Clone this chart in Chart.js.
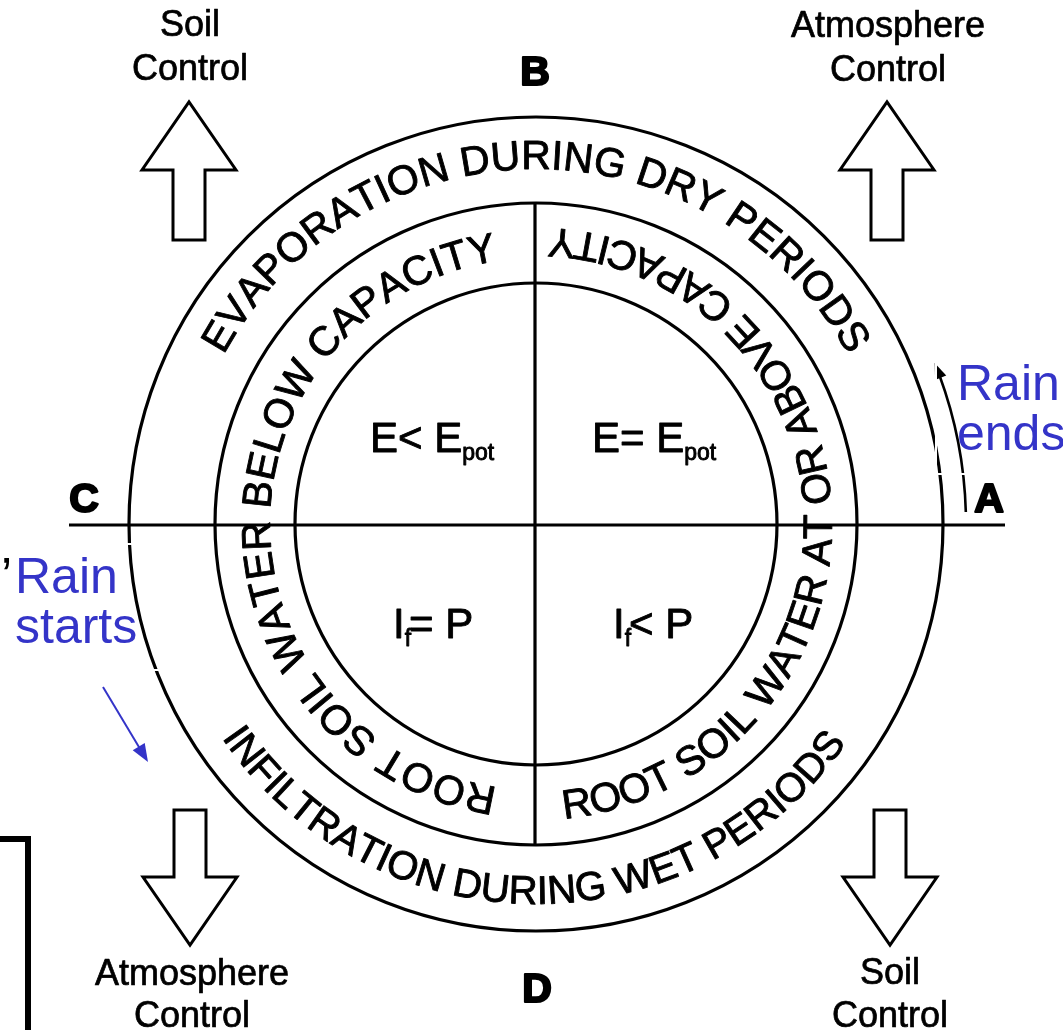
<!DOCTYPE html>
<html>
<head>
<meta charset="utf-8">
<script src="https://cdn.jsdelivr.net/npm/chart.js@4.4.1/dist/chart.umd.min.js"></script>
<style>
html,body{margin:0;padding:0;background:#fff;overflow:hidden}
canvas{display:block}
</style>
</head>
<body>
<canvas id="c" width="1063" height="1030"></canvas>
<script>
// ---------------- data ----------------
const ringRadii = [241, 321, 407];   // inner circle, middle circle, outer circle (diagram units)
const axisLetters = ['A', 'B', 'C', 'D'];
const outerRingTexts = ['EVAPORATION DURING DRY PERIODS', 'INFILTRATION DURING WET PERIODS'];
const innerRingTexts = ['ROOT SOIL WATER BELOW CAPACITY', 'ROOT SOIL WATER AT OR ABOVE CAPACITY'];
const quadrantMain = ['E< E', 'E= E', 'I', 'I'];
const quadrantSub  = ['pot', 'pot', 'f', 'f'];
const quadrantTail = ['', '', '= P', '< P'];
const controlLabels = [['Soil', 'Control'], ['Atmosphere', 'Control'], ['Atmosphere', 'Control'], ['Soil', 'Control']];
const rainLabels = [['Rain', 'starts'], ['Rain', 'ends']];

// ---------------- layout (diagram units: origin at circle centre, y up) ----------------
const L = {
  xMin: -536, xMax: 527, yMin: -506, yMax: 524,
  hLine: { x0: -467, x1: 469, y: -1 },
  vLineX: -1,
  outerText: [ { r: 355, centre: 270, outward: true, size: 41 }, { r: 380, centre: 90.5, outward: false, size: 40 } ],
  innerText: [ { r: 266, centre: 180, outward: true, size: 41 }, { r: 296, centre: -1.4, outward: false, size: 41 } ],
  letters: [ { x: 453, y: 12 }, { x: -1, y: 439 }, { x: -452, y: 12 }, { x: 1, y: -478 } ],
  quadrants: [ { x: -166, y: 72 }, { x: 56, y: 72 }, { x: -143, y: -114 }, { x: 77, y: -114 } ],
  arrows: [ { x: -347, tail: 284, tip: 422 }, { x: 351, tail: 284, tip: 422 }, { x: -346, tail: -286, tip: -421 }, { x: 354, tail: -286, tip: -421 } ],
  arrowHead: 68, arrowHalfHead: 47, arrowHalfShaft: 16,
  controlText: [ { x: -346, y: [488, 444] }, { x: 352, y: [487, 443] }, { x: -344, y: [-461, -503] }, { x: 354, y: [-460, -503] } ],
  rainText: [ { x: -521, y: [-69, -119] }, { x: 421, y: [124, 74] } ],
  blueArrow: { x0: -433, y0: -163, x1: -388, y1: -238 },
  arcArrow: { r: 430, a0: -1.6, a1: -22 },
  whiteMarks: [ [-412, -20, -394, -20], [-386, -146, -374, -146], [400, 162, 400, 50], [400, 50, 430, 50] ],
  bracket: { xLeft: -536, xRight: -508, yTop: -315, yBottom: -506 },
  blue: '#3434c8',
  textStroke: 0.9
};

const FONT = "'Liberation Sans', Arial, Helvetica, sans-serif";

function heavyText(ctx, s, x, y) {
  ctx.fillText(s, x, y);
  ctx.strokeText(s, x, y);
}

function arcText(ctx, text, cx, cy, r, centreDeg, outward) {
  const chars = [...text];
  const widths = chars.map(ch => ctx.measureText(ch).width);
  const total = widths.reduce((a, b) => a + b, 0);
  const span = total / r;
  let th = centreDeg * Math.PI / 180 + (outward ? -span / 2 : span / 2);
  ctx.textAlign = 'center';
  ctx.textBaseline = 'alphabetic';
  chars.forEach((ch, i) => {
    const w = widths[i];
    const mid = outward ? th + w / 2 / r : th - w / 2 / r;
    ctx.save();
    ctx.translate(cx + r * Math.cos(mid), cy + r * Math.sin(mid));
    ctx.rotate(outward ? mid + Math.PI / 2 : mid - Math.PI / 2);
    heavyText(ctx, ch, 0, 0);
    ctx.restore();
    th = outward ? th + w / r : th - w / r;
  });
}

const diagramPlugin = {
  id: 'diagram',
  afterDatasetsDraw(chart) {
    const ctx = chart.ctx;
    const sx = chart.scales.x, sy = chart.scales.y;
    const X = v => sx.getPixelForValue(v);
    const Y = v => sy.getPixelForValue(v);
    const unit = X(1) - X(0);
    const cx = X(0), cy = Y(0);
    ctx.save();
    ctx.strokeStyle = '#000';
    ctx.fillStyle = '#000';

    // circles
    ctx.lineWidth = 3.2;
    ringRadii.forEach(r => {
      ctx.beginPath();
      ctx.arc(cx, cy, r * unit, 0, Math.PI * 2);
      ctx.stroke();
    });

    // ring texts
    ctx.lineWidth = L.textStroke;
    ctx.lineJoin = 'round';
    outerRingTexts.forEach((t, i) => {
      const p = L.outerText[i];
      ctx.font = p.size + 'px ' + FONT;
      arcText(ctx, t, cx, cy, p.r * unit, p.centre, p.outward);
    });
    innerRingTexts.forEach((t, i) => {
      const p = L.innerText[i];
      ctx.font = p.size + 'px ' + FONT;
      arcText(ctx, t, cx, cy, p.r * unit, p.centre, p.outward);
    });

    // quadrant formulae
    ctx.textAlign = 'left';
    ctx.textBaseline = 'alphabetic';
    quadrantMain.forEach((m, i) => {
      const p = L.quadrants[i];
      let x = X(p.x);
      const y = Y(p.y);
      ctx.font = '42px ' + FONT;
      heavyText(ctx, m, x, y);
      x += ctx.measureText(m).width;
      ctx.font = '23px ' + FONT;
      heavyText(ctx, quadrantSub[i], x, y + 8);
      x += ctx.measureText(quadrantSub[i]).width - 2;
      if (quadrantTail[i]) {
        ctx.font = '42px ' + FONT;
        heavyText(ctx, quadrantTail[i], x, y);
      }
    });

    // axis letters
    ctx.font = 'bold 41px ' + FONT;
    ctx.textAlign = 'center';
    ctx.lineWidth = 2.2;
    axisLetters.forEach((l, i) => {
      const p = L.letters[i];
      heavyText(ctx, l, X(p.x), Y(p.y));
    });

    // control arrows
    ctx.lineWidth = 3;
    ctx.lineJoin = 'miter';
    L.arrows.forEach(a => {
      const dir = Math.sign(a.tip - a.tail);
      const base = a.tip - dir * L.arrowHead;
      ctx.beginPath();
      ctx.moveTo(X(a.x - L.arrowHalfShaft), Y(a.tail));
      ctx.lineTo(X(a.x - L.arrowHalfShaft), Y(base));
      ctx.lineTo(X(a.x - L.arrowHalfHead), Y(base));
      ctx.lineTo(X(a.x), Y(a.tip));
      ctx.lineTo(X(a.x + L.arrowHalfHead), Y(base));
      ctx.lineTo(X(a.x + L.arrowHalfShaft), Y(base));
      ctx.lineTo(X(a.x + L.arrowHalfShaft), Y(a.tail));
      ctx.closePath();
      ctx.fillStyle = '#fff';
      ctx.fill();
      ctx.stroke();
    });
    ctx.fillStyle = '#000';

    // control labels
    ctx.font = '36px ' + FONT;
    ctx.textAlign = 'center';
    ctx.lineWidth = 0.7;
    ctx.lineJoin = 'round';
    controlLabels.forEach((lines, i) => {
      const p = L.controlText[i];
      lines.forEach((s, j) => heavyText(ctx, s, X(p.x), Y(p.y[j])));
    });

    // arc arrow near A
    const aa = L.arcArrow;
    const a0 = aa.a0 * Math.PI / 180, a1 = aa.a1 * Math.PI / 180;
    const ar = aa.r * unit;
    ctx.lineWidth = 2.6;
    ctx.beginPath();
    ctx.arc(cx, cy, ar, a0, a1 + 0.03, true);
    ctx.stroke();
    const tx = cx + ar * Math.cos(a1), ty = cy + ar * Math.sin(a1);
    const dx = Math.sin(a1), dy = -Math.cos(a1); // direction of travel (decreasing angle)
    const nx = -dy, ny = dx;
    ctx.beginPath();
    ctx.moveTo(tx, ty);
    ctx.lineTo(tx - dx * 16 + nx * 6, ty - dy * 16 + ny * 6);
    ctx.lineTo(tx - dx * 16 - nx * 6, ty - dy * 16 - ny * 6);
    ctx.closePath();
    ctx.fill();

    // white marks (box edges)
    ctx.strokeStyle = '#fff';
    ctx.lineWidth = 2;
    L.whiteMarks.forEach(m => {
      ctx.beginPath();
      ctx.moveTo(X(m[0]), Y(m[1]));
      ctx.lineTo(X(m[2]), Y(m[3]));
      ctx.stroke();
    });

    // bracket bottom-left
    ctx.strokeStyle = '#000';
    ctx.lineWidth = 6;
    ctx.lineJoin = 'miter';
    const b = L.bracket;
    ctx.beginPath();
    ctx.moveTo(X(b.xLeft), Y(b.yTop));
    ctx.lineTo(X(b.xRight), Y(b.yTop));
    ctx.lineTo(X(b.xRight), Y(b.yBottom) + 5);
    ctx.stroke();

    // rain labels
    ctx.font = '50px ' + FONT;
    ctx.textAlign = 'left';
    ctx.fillStyle = '#000';
    ctx.fillText('\u2019', X(-535), Y(-69));
    ctx.fillStyle = L.blue;
    rainLabels.forEach((lines, i) => {
      const p = L.rainText[i];
      lines.forEach((s, j) => ctx.fillText(s, X(p.x), Y(p.y[j])));
    });

    // blue arrow
    const ba = L.blueArrow;
    const bx0 = X(ba.x0), by0 = Y(ba.y0), bx1 = X(ba.x1), by1 = Y(ba.y1);
    const len = Math.hypot(bx1 - bx0, by1 - by0);
    const ux = (bx1 - bx0) / len, uy = (by1 - by0) / len;
    ctx.strokeStyle = L.blue;
    ctx.lineWidth = 2;
    ctx.beginPath();
    ctx.moveTo(bx0, by0);
    ctx.lineTo(bx1 - ux * 10, by1 - uy * 10);
    ctx.stroke();
    ctx.beginPath();
    ctx.moveTo(bx1, by1);
    ctx.lineTo(bx1 - ux * 18 - uy * 7, by1 - uy * 18 + ux * 7);
    ctx.lineTo(bx1 - ux * 18 + uy * 7, by1 - uy * 18 - ux * 7);
    ctx.closePath();
    ctx.fill();

    ctx.restore();
  }
};

new Chart(document.getElementById('c').getContext('2d'), {
  type: 'scatter',
  data: {
    datasets: [
      { data: [{ x: L.hLine.x0, y: L.hLine.y }, { x: L.hLine.x1, y: L.hLine.y }],
        showLine: true, borderColor: '#000', borderWidth: 3.2, pointRadius: 0, fill: false },
      { data: [{ x: L.vLineX, y: ringRadii[1] }, { x: L.vLineX, y: -ringRadii[1] }],
        showLine: true, borderColor: '#000', borderWidth: 3.2, pointRadius: 0, fill: false }
    ]
  },
  options: {
    responsive: false,
    animation: false,
    devicePixelRatio: 1,
    events: [],
    layout: { padding: 0 },
    plugins: { legend: { display: false }, tooltip: { enabled: false }, title: { display: false } },
    scales: {
      x: { type: 'linear', display: false, min: L.xMin, max: L.xMax },
      y: { type: 'linear', display: false, min: L.yMin, max: L.yMax }
    }
  },
  plugins: [diagramPlugin]
});
</script>
</body>
</html>
